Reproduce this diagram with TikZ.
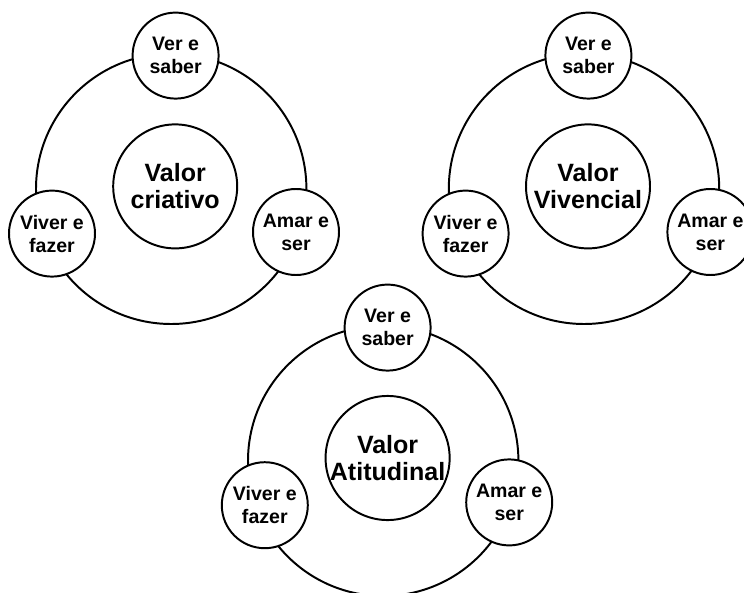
\documentclass[tikz,border=0pt]{standalone}
\usepackage{fontspec}
\setmainfont{Liberation Sans}
\usepackage{tikz}

\begin{document}
\begin{tikzpicture}[
    anel/.style={line width=1.4pt},
    valor/.style={circle, draw, line width=1.4pt, fill=white, minimum size=3.1cm, inner sep=0pt, align=center, font=\fontsize{17.8}{19.4}\selectfont\bfseries},
    acao/.style={circle, draw, line width=1.4pt, fill=white, minimum size=2.15cm, inner sep=0pt, align=center, font=\fontsize{13.9}{16.4}\selectfont\bfseries}
]
    \clip (0,0) rectangle (18.6,14.8);
    \draw[anel] (4.28,10.08) circle (3.38);
    \node[valor] (criativo) at (4.38,10.14) {Valor\\criativo};
    \node[acao] (criativo-ver) at (4.39,13.41) {Ver e\\saber};
    \node[acao] (criativo-viver) at (1.30,8.96) {Viver e\\fazer};
    \node[acao] (criativo-amar) at (7.40,9.00) {Amar e\\ser};
    \draw[anel] (14.60,10.08) circle (3.38);
    \node[valor] (vivencial) at (14.70,10.14) {Valor\\Vivencial};
    \node[acao] (vivencial-ver) at (14.71,13.41) {Ver e\\saber};
    \node[acao] (vivencial-viver) at (11.64,8.96) {Viver e\\fazer};
    \node[acao] (vivencial-amar) at (17.76,9.00) {Amar e\\ser};
    \draw[anel] (9.58,3.28) circle (3.38);
    \node[valor] (atitudinal) at (9.69,3.35) {Valor\\Atitudinal};
    \node[acao] (atitudinal-ver) at (9.69,6.61) {Ver e\\saber};
    \node[acao] (atitudinal-viver) at (6.62,2.17) {Viver e\\fazer};
    \node[acao] (atitudinal-amar) at (12.73,2.24) {Amar e\\ser};
\end{tikzpicture}
\end{document}
